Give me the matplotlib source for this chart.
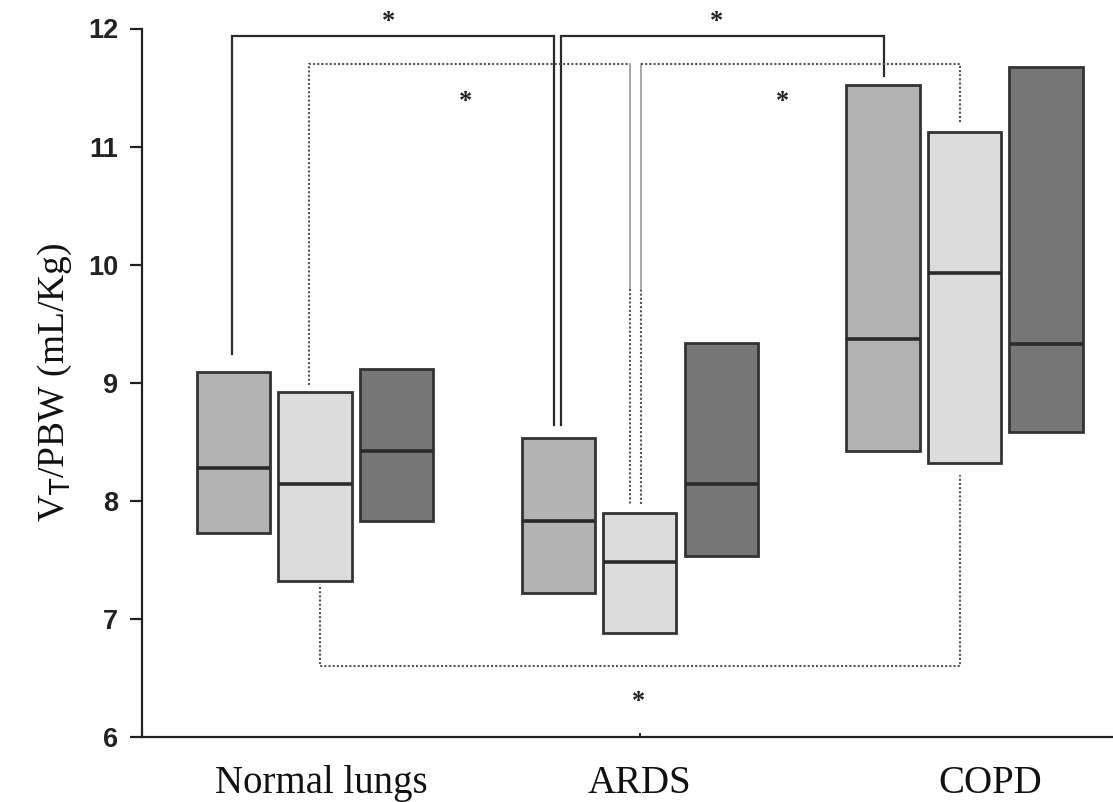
import matplotlib
matplotlib.use("Agg")
import matplotlib.pyplot as plt
import numpy as np

# ---- data ----
groups = ["Normal lungs", "ARDS", "COPD"]
s1_low = [7.73, 7.22, 8.42]
s1_med = [8.28, 7.83, 9.37]
s1_high = [9.09, 8.53, 11.52]
s2_low = [7.32, 6.88, 8.32]
s2_med = [8.14, 7.48, 9.93]
s2_high = [8.92, 7.90, 11.12]
s3_low = [7.83, 7.53, 8.58]
s3_med = [8.42, 8.14, 9.33]
s3_high = [9.12, 9.34, 11.67]
yticks = [6, 7, 8, 9, 10, 11, 12]

# ---- style ----
colors = ["#b3b3b3", "#dcdcdc", "#777777"]
edge = "#333333"
offsets = [-0.251, 0.0, 0.251]
width = 0.225

fig = plt.figure(figsize=(11.13, 8.02), dpi=100)
ax = fig.add_axes([142 / 1113, 65 / 802, 1 - 142 / 1113, (737 - 28.5) / 802])

x = np.arange(len(groups))
series = [(s1_low, s1_med, s1_high), (s2_low, s2_med, s2_high), (s3_low, s3_med, s3_high)]
for (lo, med, hi), off, c in zip(series, offsets, colors):
    lo = np.array(lo); med = np.array(med); hi = np.array(hi)
    ax.bar(x + off, hi - lo, bottom=lo, width=width, color=c, edgecolor=edge,
           linewidth=2.0, zorder=3)
    ax.hlines(med, x + off - width / 2, x + off + width / 2, colors="#2a2a2a",
              linewidth=2.6, zorder=4)

# ---- significance brackets ----
solid_kw = dict(color="#2b2b2b", linewidth=1.6, solid_joinstyle="miter", zorder=2, clip_on=False)
dot_kw = dict(color="#555555", linewidth=1.5, linestyle=(0, (1, 1)), zorder=2, clip_on=False)
thin_kw = dict(color="#9a9a9a", linewidth=1.2, zorder=2, clip_on=False)

# solid: Normal(s1) - ARDS(s1)
ax.plot([-0.256, -0.256, 0.737, 0.737], [9.24, 11.94, 11.94, 8.64], **solid_kw)
# solid: ARDS(s1) - COPD(s1)
ax.plot([0.758, 0.758, 1.751, 1.751], [8.64, 11.94, 11.94, 11.60], **solid_kw)
# dotted: Normal(s2) - ARDS(s2)
ax.plot([-0.018, -0.018, 0.970], [8.98, 11.70, 11.70], **dot_kw)
ax.plot([0.970, 0.970], [11.70, 9.79], **thin_kw)
ax.plot([0.970, 0.970], [9.79, 7.97], **dot_kw)
# dotted: ARDS(s2) - COPD(s2)
ax.plot([1.004, 1.004], [7.97, 9.79], **dot_kw)
ax.plot([1.004, 1.004], [9.79, 11.70], **thin_kw)
ax.plot([1.004, 1.986, 1.986], [11.70, 11.70, 11.21], **dot_kw)
# dotted bottom: Normal(s2) - COPD(s2)
ax.plot([0.015, 0.015, 1.986, 1.986], [7.27, 6.60, 6.60, 8.22], **dot_kw)

star_kw = dict(ha="center", va="center", fontsize=19, fontweight="bold",
               family="Liberation Serif", color="#222222", clip_on=False, zorder=5)
for sx, sy in [(0.225, 12.06), (1.235, 12.06), (0.462, 11.38), (1.44, 11.38), (0.995, 6.30)]:
    ax.text(sx, sy, "*", **star_kw)

# ---- axes ----
ax.set_xlim((142 - 315) / 324.75, (1113 - 315) / 324.75)
ax.set_ylim(6, 12)
for s in ["top", "right"]:
    ax.spines[s].set_visible(False)
for s in ["left", "bottom"]:
    ax.spines[s].set_linewidth(1.6)
    ax.spines[s].set_color("#222222")

ax.set_yticks(yticks)
ax.set_yticklabels([str(t) for t in yticks], fontsize=19.5, fontweight="bold",
                   family="Liberation Sans", color="#222222")
ax.tick_params(axis="y", direction="out", length=9, width=1.6, pad=8, colors="#222222")

ax.set_xticks([1])
ax.set_xticklabels([""])
ax.tick_params(axis="x", direction="in", length=3, width=1.2)

label_pos = [0.02, 0.0, 0.08]
for xi, lp, g in zip(x, label_pos, groups):
    ax.text(xi + lp, -0.066, g, transform=ax.get_xaxis_transform(), ha="center",
            va="center", fontsize=28, family="Liberation Serif", color="#111111")

ax.set_ylabel(r"V$_\mathrm{T}$/PBW (mL/Kg)", fontsize=27, family="Liberation Serif",
              labelpad=10, color="#111111")

fig.savefig("out.png", dpi=100)
